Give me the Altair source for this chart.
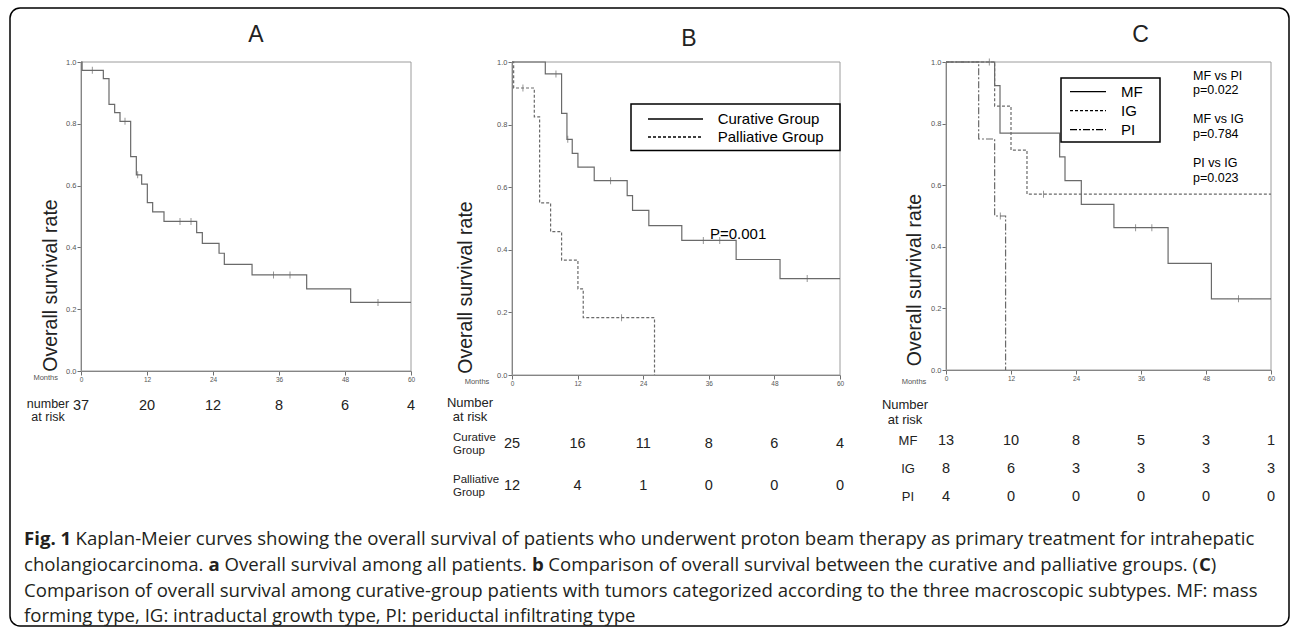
import altair as alt
import pandas as pd

W, H = 1292, 628

# ---------------- data ----------------
month_ticks = [0, 12, 24, 36, 48, 60]
surv_ticks = [0.0, 0.2, 0.4, 0.6, 0.8, 1.0]

a_time = [0, 0.2, 4.06, 5.09, 6.12, 7.09, 9.03, 10.06, 11.03, 12.06, 13.03, 15.09,
          21.03, 22.06, 25.1, 26.06, 31.1, 41.03, 49.03, 60]
a_surv = [1.0, 0.973, 0.946, 0.863, 0.836, 0.808, 0.694, 0.635, 0.605, 0.545, 0.515,
          0.484, 0.448, 0.413, 0.381, 0.345, 0.311, 0.266, 0.222, 0.222]
a_cens = [2.06, 8.0, 10.3, 18.0, 20.0, 35.0, 38.0, 54.0]

b_cur_time = [0, 6.09, 9.07, 10.05, 11.02, 12.06, 15.04, 21.07, 22.05, 25.03, 31.06, 41.0, 49.03, 60]
b_cur_surv = [1.0, 0.962, 0.836, 0.753, 0.708, 0.664, 0.621, 0.573, 0.526, 0.477, 0.43, 0.369, 0.308, 0.308]
b_cur_cens = [8.04, 10.2, 18.03, 35.0, 38.0, 54.0]
b_pal_time = [0, 0.3, 4.08, 5.05, 7.06, 9.07, 12.06, 13.03, 26.07]
b_pal_surv = [1.0, 0.917, 0.825, 0.55, 0.458, 0.367, 0.275, 0.183, 0.0]
b_pal_cens = [2.0, 20.04]

c_mf_time = [0, 8.98, 9.97, 20.98, 21.97, 24.98, 31.0, 41.0, 49.0, 60]
c_mf_surv = [1.0, 0.923, 0.769, 0.692, 0.615, 0.538, 0.462, 0.346, 0.231, 0.231]
c_mf_cens = [35.0, 38.0, 54.0]
c_ig_time = [0, 8.98, 12.0, 14.95, 60]
c_ig_surv = [1.0, 0.857, 0.714, 0.571, 0.571]
c_ig_cens = [8.0, 18.0]
c_pi_time = [0, 6.03, 8.98, 11.0]
c_pi_surv = [1.0, 0.75, 0.5, 0.0]
c_pi_cens = [10.03]

risk_months = [0, 12, 24, 36, 48, 60]
risk_a = [37, 20, 12, 8, 6, 4]
risk_b_cur = [25, 16, 11, 8, 6, 4]
risk_b_pal = [12, 4, 1, 0, 0, 0]
risk_c_mf = [13, 10, 8, 5, 3, 1]
risk_c_ig = [8, 6, 3, 3, 3, 3]
risk_c_pi = [4, 0, 0, 0, 0, 0]

groups_b = ["Curative Group", "Palliative Group"]
groups_c = ["MF", "IG", "PI"]

# ---------------- styles ----------------
CURVE = "#6a6a6a"
FRAME = "#9c9c9c"
AXC = "#6e6e6e"
TXT = "#222222"
SANS = "Liberation Sans, Arial, sans-serif"
CAP = "'Open Sans', sans-serif"

dummy = pd.DataFrame({"k": [0]})


def step_value(times, survs, t):
    v = survs[0]
    for ti, si in zip(times, survs):
        if ti <= t:
            v = si
    return v


def curve_df(times, survs, group):
    return pd.DataFrame({"t": times, "s": survs, "g": group})


def cens_df(times, survs, cens, group):
    return pd.DataFrame({"t": cens, "s": [step_value(times, survs, c) for c in cens], "g": group})


def panel(x0, x1, ytop, ybot, curves, censors, dash=None):
    xs = alt.Scale(domain=[0, 60], range=[x0, x1], nice=False, zero=False)
    ys = alt.Scale(domain=[0, 1], range=[ybot, ytop], nice=False, zero=False)
    xax = alt.Axis(orient="bottom", offset=ybot - H, values=month_ticks, format="d", title=None,
                   grid=False, tickSize=4, tickColor=AXC, domainColor=AXC, labelFont=SANS,
                   labelFontSize=6.5, labelColor="#555555", labelPadding=1, labelFlush=False)
    yax = alt.Axis(orient="left", offset=-x0, values=surv_ticks, format=".1f", title=None,
                   grid=False, tickSize=4, tickColor=AXC, domainColor=AXC, labelFont=SANS,
                   labelFontSize=7.5, labelColor="#555555", labelPadding=1, labelFlush=False)
    frame_df = pd.DataFrame({"t": [0], "t2": [60], "s": [0.0], "s2": [1.0]})
    frame = alt.Chart(frame_df).mark_rect(fillOpacity=0, stroke=FRAME, strokeWidth=1).encode(
        x=alt.X("t:Q", scale=xs, axis=xax), x2="t2:Q",
        y=alt.Y("s:Q", scale=ys, axis=yax), y2="s2:Q")
    cdf = pd.concat(curves, ignore_index=True)
    enc = dict(x=alt.X("t:Q", scale=xs, axis=xax), y=alt.Y("s:Q", scale=ys, axis=yax),
               detail="g:N")
    if dash is not None:
        enc["strokeDash"] = dash
    lines = alt.Chart(cdf).mark_line(interpolate="step-after", color=CURVE, strokeWidth=1.2).encode(**enc)
    kdf = pd.concat(censors, ignore_index=True)
    ticks = alt.Chart(kdf).mark_tick(orient="vertical", size=7, thickness=1, color=CURVE).encode(
        x=alt.X("t:Q", scale=xs, axis=xax), y=alt.Y("s:Q", scale=ys, axis=yax))
    return alt.layer(frame, lines, ticks), xs


def table(xs, rows, counts, ypos, label_x=None, label_align="left", label_size=13, label_lines=None,
          label_dy=0):
    recs = []
    for r, cnt in zip(rows, counts):
        for m, n in zip(risk_months, cnt):
            recs.append({"m": m, "row": r, "n": n})
    df = pd.DataFrame(recs)
    yscale = alt.Scale(domain=rows, range=[ypos[0], ypos[-1]], padding=0)
    nums = alt.Chart(df).mark_text(font=SANS, fontSize=14.5, color=TXT).encode(
        x=alt.X("m:Q", scale=xs, axis=None),
        y=alt.Y("row:N", scale=yscale, axis=None),
        text="n:Q")
    layers = [nums]
    if label_lines is not None:
        ldf = pd.DataFrame({"row": rows, "lab": label_lines})
        labs = alt.Chart(ldf).mark_text(font=SANS, fontSize=label_size, color=TXT, dy=label_dy,
                                        align=label_align, lineBreak="\n", lineHeight=13).encode(
            x=alt.value(label_x),
            y=alt.Y("row:N", scale=yscale, axis=None),
            text="lab:N")
        layers.append(labs)
    return alt.layer(*layers)


def txt(s, x, y, size, font=SANS, align="left", baseline="middle", weight="normal", color=TXT,
        angle=0, line_height=None):
    kw = dict(text=s, font=font, fontSize=size, align=align, baseline=baseline, fontWeight=weight,
              color=color, angle=angle)
    if line_height is not None:
        kw["lineBreak"] = "\n"
        kw["lineHeight"] = line_height
    return alt.Chart(dummy).mark_text(**kw).encode(x=alt.value(x), y=alt.value(y))


def box(x0, y0, x1, y1, color="black", width=1.5, radius=0):
    return alt.Chart(dummy).mark_rect(fillOpacity=0, stroke=color, strokeWidth=width,
                                      cornerRadius=radius).encode(
        x=alt.value(x0), x2=alt.value(x1), y=alt.value(y0), y2=alt.value(y1))


# ---------------- panels ----------------
pA, xsA = panel(81, 411, 62, 371, [curve_df(a_time, a_surv, "all")],
                [cens_df(a_time, a_surv, a_cens, "all")])

dashB = alt.StrokeDash("g:N", scale=alt.Scale(domain=groups_b, range=[[1, 0], [3, 2]]),
                       legend=alt.Legend(orient="none", legendX=640, legendY=110, title=None,
                                         symbolType="stroke", symbolSize=55 * 55, clipHeight=18,
                                         symbolOffset=7, labelOffset=13.7, labelFontSize=15,
                                         labelFont=SANS, labelColor="black", symbolStrokeColor="black",
                                         symbolStrokeWidth=1.3, padding=0, rowPadding=0, labelLimit=400))
pB, xsB = panel(512, 840, 62, 375,
                [curve_df(b_cur_time, b_cur_surv, groups_b[0]), curve_df(b_pal_time, b_pal_surv, groups_b[1])],
                [cens_df(b_cur_time, b_cur_surv, b_cur_cens, groups_b[0]),
                 cens_df(b_pal_time, b_pal_surv, b_pal_cens, groups_b[1])], dash=dashB)

dashC = alt.StrokeDash("g:N", scale=alt.Scale(domain=groups_c, range=[[1, 0], [3, 2], [7, 2, 2, 2]]),
                       legend=alt.Legend(orient="none", legendX=1065, legendY=82.5, title=None,
                                         symbolType="stroke", symbolSize=36 * 36, clipHeight=18.3,
                                         symbolOffset=4, labelOffset=14, labelFontSize=15,
                                         labelFont=SANS, labelColor="black", symbolStrokeColor="black",
                                         symbolStrokeWidth=1.3, padding=0, rowPadding=0, labelLimit=400))
pC, xsC = panel(946, 1271, 62, 370,
                [curve_df(c_mf_time, c_mf_surv, "MF"), curve_df(c_ig_time, c_ig_surv, "IG"),
                 curve_df(c_pi_time, c_pi_surv, "PI")],
                [cens_df(c_mf_time, c_mf_surv, c_mf_cens, "MF"), cens_df(c_ig_time, c_ig_surv, c_ig_cens, "IG"),
                 cens_df(c_pi_time, c_pi_surv, c_pi_cens, "PI")], dash=dashC)

# ---------------- risk tables ----------------
tA = table(xsA, ["all"], [risk_a], [406])
tB = table(xsB, ["Curative", "Palliative"], [risk_b_cur, risk_b_pal], [444, 486], 453, "left", 11.5,
           ["Curative\nGroup", "Palliative\nGroup"], label_dy=-6)
tC = table(xsC, ["MF", "IG", "PI"], [risk_c_mf, risk_c_ig, risk_c_pi], [441, 497], 908, "center", 13,
           ["MF", "IG", "PI"])

# ---------------- text & decorations ----------------
deco = [
    box(10, 8, 1289, 626, radius=10),
    txt("A", 256, 35, 23, align="center"),
    txt("B", 689, 39, 23, align="center"),
    txt("C", 1140.5, 35, 23, align="center"),
    txt("Overall survival rate", 51, 285.5, 19.5, align="center", angle=270),
    txt("Overall survival rate", 466, 287.5, 19.5, align="center", angle=270),
    txt("Overall survival rate", 915, 280, 19.5, align="center", angle=270),
    txt("Months", 45.7, 378, 7.5, align="center", color="#555555"),
    txt("Months", 477, 381.7, 7.5, align="center", color="#555555"),
    txt("Months", 914, 382, 7.5, align="center", color="#555555"),
    txt("number\nat risk", 48, 404, 12.5, align="center", line_height=13),
    txt("Number\nat risk", 470, 403, 13, align="center", line_height=14),
    txt("Number\nat risk", 905, 405, 13, align="center", line_height=15),
    box(631, 104, 840, 150.5, width=1.5),
    box(1061, 78, 1160, 142, width=1.5),
    txt("P=0.001", 710, 234, 15, color="black"),
    txt("MF vs PI", 1193, 75.5, 12.5, color="black"),
    txt("p=0.022", 1193, 89.5, 12.5, color="black"),
    txt("MF vs IG", 1193, 119, 12.5, color="black"),
    txt("p=0.784", 1193, 133.5, 12.5, color="black"),
    txt("PI vs IG", 1193, 163, 12.5, color="black"),
    txt("p=0.023", 1193, 177.5, 12.5, color="black"),
]

# caption with bold fragments, positioned with approximate Open Sans advance widths
OS_REG = {' ': 532, '(': 608, ')': 608, ',': 502, '-': 659, '.': 545, ':': 545,
          'A': 1296, 'B': 1327, 'C': 1292, 'D': 1493, 'E': 1139, 'F': 1057, 'G': 1491, 'H': 1511,
          'I': 571, 'K': 1257, 'M': 1849, 'O': 1599, 'P': 1255, 'S': 1124,
          'a': 1139, 'b': 1255, 'c': 975, 'd': 1255, 'e': 1149, 'f': 694, 'g': 1122, 'h': 1257,
          'i': 518, 'j': 518, 'k': 1075, 'l': 518, 'm': 1905, 'n': 1257, 'o': 1237, 'p': 1255,
          'q': 1255, 'r': 836, 's': 977, 't': 723, 'u': 1257, 'v': 1026, 'w': 1593, 'x': 1073,
          'y': 1028, 'z': 934, '1': 1171}
OS_BOLD = {' ': 532, '.': 590, '1': 1171, 'F': 1120, 'i': 590, 'g': 1147, 'a': 1225, 'b': 1260, 'C': 1290}
CS = 18.6
CX = 24


def adv(s, tbl):
    return sum(tbl.get(ch, 1150) for ch in s) * CS / 2048


cap_lines = [
    (539, [("Fig. 1", True), (" Kaplan-Meier curves showing the overall survival of patients who underwent proton beam therapy as primary treatment for intrahepatic", False)]),
    (565, [("cholangiocarcinoma. ", False), ("a", True), (" Overall survival among all patients. ", False), ("b", True),
           (" Comparison of overall survival between the curative and palliative groups. (", False), ("C", True), (")", False)]),
    (591, [("Comparison of overall survival among curative-group patients with tumors categorized according to the three macroscopic subtypes. MF: mass", False)]),
    (616, [("forming type, IG: intraductal growth type, PI: periductal infiltrating type", False)]),
]
cap = []
for yy, segs in cap_lines:
    x = CX
    for s, bold in segs:
        tbl = OS_BOLD if bold else OS_REG
        lead = len(s) - len(s.lstrip(" "))
        x += adv(" " * lead, tbl)
        body = s.strip(" ")
        cap.append(txt(body, x, yy, CS, font=CAP, weight="bold" if bold else "normal", color="#231f20"))
        x += adv(s.lstrip(" "), tbl)

chart = alt.layer(pA, pB, pC, tA, tB, tC, *deco, *cap).resolve_scale(
    x="independent", y="independent", strokeDash="independent"
).resolve_axis(x="independent", y="independent").resolve_legend(strokeDash="independent").properties(
    width=W, height=H, autosize=alt.AutoSizeParams(type="none"), padding=0, background="white"
).configure_view(stroke=None)

chart.save("out.html", embed_options={"renderer": "svg", "actions": False})
